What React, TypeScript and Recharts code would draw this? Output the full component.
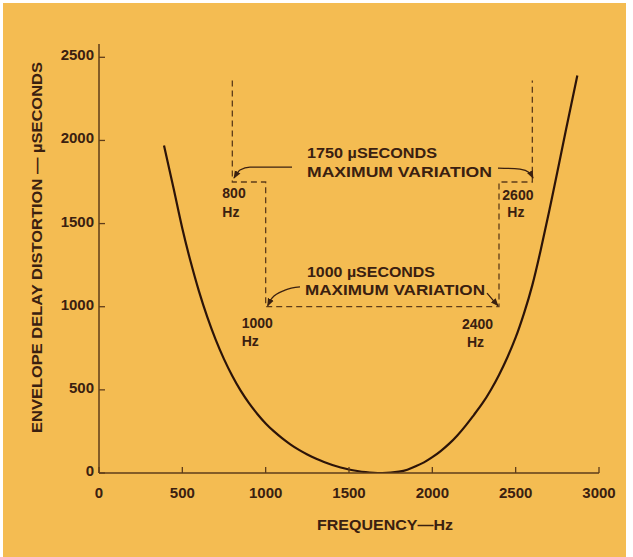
import React from 'react';
import { ComposedChart, Line, XAxis, YAxis, ReferenceDot } from 'recharts';

// ---- data ----
const frequencyTicks = [0, 500, 1000, 1500, 2000, 2500, 3000];
const delayTicks = [0, 500, 1000, 1500, 2000, 2500];

const curveFreq = [390, 450, 500, 550, 600, 650, 700, 750, 800, 850, 900, 950, 1000, 1050, 1100, 1150, 1200, 1250, 1300, 1350, 1400, 1450, 1500, 1550, 1600, 1650, 1700, 1750, 1800, 1850, 1900, 1950, 2000, 2050, 2100, 2150, 2200, 2250, 2300, 2350, 2400, 2450, 2500, 2550, 2600, 2650, 2700, 2750, 2800, 2870];
const curveDelay = [1970, 1700, 1470, 1270, 1092, 937, 802, 685, 583, 495, 420, 355, 298, 250, 208, 171, 139, 111, 87, 66, 48, 33, 21, 12, 5, 1, 0, 2, 8, 20, 40, 64, 95, 132, 175, 226, 285, 350, 418, 498, 590, 695, 815, 960, 1130, 1340, 1570, 1810, 2055, 2390];

// dashed limit template
const limitFreq = [800, 800, 1000, 1000, 2400, 2400, 2600, 2600];
const limitDelay = [2360, 1750, 1750, 1000, 1000, 1750, 1750, 2360];

// curved pointer arrows (freq, delay)
const arrow1750LeftFreq = [1158, 906, 846, 810];
const arrow1750LeftDelay = [1840, 1840, 1822, 1774];
const arrow1750RightFreq = [2394, 2526, 2586, 2604];
const arrow1750RightDelay = [1834, 1828, 1804, 1774];
const arrow1000LeftFreq = [1206, 1116, 1038, 1012];
const arrow1000LeftDelay = [1119, 1100, 1052, 1006];
const arrow1000RightFreq = [2328, 2364, 2394];
const arrow1000RightDelay = [1082, 1040, 1006];

const cornerFreq = [800, 2600, 1000, 2400];
const cornerDelay = [1750, 1750, 1000, 1000];
const cornerLabels = ['800', '2600', '1000', '2400'];

const captionFreq = [1200, 1200];
const captionDelay = [1750, 1000];
const captionLines = [
  ['1750 \u00b5SECONDS', 'MAXIMUM VARIATION'],
  ['1000 \u00b5SECONDS', 'MAXIMUM VARIATION'],
];

const xTitle = 'FREQUENCY\u2014Hz';
const yTitle = 'ENVELOPE DELAY DISTORTION \u2014 \u00b5SECONDS';

// ---- styles ----
const BG = '#F4BC52';
const INK = '#3a2010';
const AXIS = '#5e3c1a';
const FONT = '"Liberation Sans", Arial, Helvetica, sans-serif';

const zip = (fs: number[], vs: number[]) => fs.map((f, i) => ({ f, v: vs[i] }));

const curveData = zip(curveFreq, curveDelay);
const limitData = zip(limitFreq, limitDelay);
const arrows = [
  zip(arrow1750LeftFreq, arrow1750LeftDelay),
  zip(arrow1750RightFreq, arrow1750RightDelay),
  zip(arrow1000LeftFreq, arrow1000LeftDelay),
  zip(arrow1000RightFreq, arrow1000RightDelay),
];

// label offsets (pixels) relative to their anchor corner: [numberDx, numberDy, hzDx, hzDy]
const cornerOffsets = [
  [-10, 16, -10, 35],
  [-30, 18, -25, 35],
  [-24, 21, -24, 39],
  [-37, 22, -32, 40],
];
const captionOffsets = [
  [8, -24, 8, -5],
  [8, -30, 6, -12],
];

const textStyle = { fontFamily: FONT, fontWeight: 700, fill: INK } as const;

const XTick = (props: any) => {
  const { x, y, payload } = props;
  return (
    <g>
      <line x1={x} x2={x} y1={y} y2={y - 6} stroke={AXIS} strokeWidth={1.3} />
      <text x={x} y={y + 25} textAnchor="middle" fontSize={15} {...textStyle}>
        {payload.value}
      </text>
    </g>
  );
};

const YTick = (props: any) => {
  const { x, y, payload } = props;
  return (
    <g>
      <line x1={x} x2={x + 6} y1={y} y2={y} stroke={AXIS} strokeWidth={1.3} />
      <text x={x - 5} y={y + 3} textAnchor="end" fontSize={15} {...textStyle}>
        {payload.value}
      </text>
    </g>
  );
};

export default function App() {
  return (
    <div style={{ position: 'absolute', left: 0, top: 0, width: 633, height: 557, background: '#ffffff' }}>
      <svg width={0} height={0} style={{ position: 'absolute' }}>
        <defs>
          <marker id="ah" viewBox="0 0 10 10" refX="9" refY="5" markerWidth="8" markerHeight="8" orient="auto" markerUnits="userSpaceOnUse">
            <path d="M0,1 L10,5 L0,9 z" fill={INK} />
          </marker>
        </defs>
      </svg>
      <div style={{ position: 'absolute', left: 3, top: 3, width: 623, height: 554, background: BG }} />
      <div style={{ position: 'absolute', left: 0, top: 0 }}>
        <ComposedChart width={633} height={557} margin={{ top: 44, right: 34, bottom: 54, left: 39 }}>
          <XAxis
            type="number"
            dataKey="f"
            domain={[0, 3000]}
            ticks={frequencyTicks}
            interval={0}
            height={30}
            allowDataOverflow
            stroke={AXIS}
            strokeWidth={1.5}
            tickLine={false}
            tickSize={0}
            tickMargin={0}
            tick={<XTick />}
            label={{
              content: (p: any) => {
                const vb = p.viewBox || { x: 99, y: 473, width: 500 };
                return (
                  <text x={vb.x + vb.width / 2 + 36} y={vb.y + 57} textAnchor="middle" fontSize={15} textLength={136} lengthAdjust="spacingAndGlyphs" {...textStyle}>
                    {xTitle}
                  </text>
                );
              },
            }}
          />
          <YAxis
            type="number"
            dataKey="v"
            domain={[0, 2580]}
            ticks={delayTicks}
            interval={0}
            width={60}
            allowDataOverflow
            stroke={AXIS}
            strokeWidth={1.5}
            tickLine={false}
            tickSize={0}
            tickMargin={0}
            tick={<YTick />}
            label={{
              content: (p: any) => {
                const vb = p.viewBox || { x: 39, y: 44, width: 60, height: 429 };
                const cx = vb.x - 3;
                const cy = vb.y + vb.height / 2 - 11;
                return (
                  <text x={cx} y={cy} transform={`rotate(-90 ${cx} ${cy})`} textAnchor="middle" dominantBaseline="central" fontSize={15} textLength={371} lengthAdjust="spacingAndGlyphs" {...textStyle}>
                    {yTitle}
                  </text>
                );
              },
            }}
          />
          <Line data={limitData} dataKey="v" type="linear" stroke={AXIS} strokeWidth={1.3} strokeDasharray="6 4" dot={false} isAnimationActive={false} />
          {arrows.map((a, i) => (
            <Line key={i} data={a} dataKey="v" type="monotone" stroke={INK} strokeWidth={1.3} dot={false} markerEnd="url(#ah)" isAnimationActive={false} />
          ))}
          <Line data={curveData} dataKey="v" type="natural" stroke="#2c1409" strokeWidth={2.2} dot={false} isAnimationActive={false} />
          {cornerFreq.map((f, i) => (
            <ReferenceDot
              key={'c' + i}
              x={f}
              y={cornerDelay[i]}
              r={0}
              shape={(p: any) => (
                <g>
                  <text x={p.cx + cornerOffsets[i][0]} y={p.cy + cornerOffsets[i][1]} fontSize={14} {...textStyle}>{cornerLabels[i]}</text>
                  <text x={p.cx + cornerOffsets[i][2]} y={p.cy + cornerOffsets[i][3]} fontSize={14} {...textStyle}>Hz</text>
                </g>
              )}
            />
          ))}
          {captionFreq.map((f, i) => (
            <ReferenceDot
              key={'t' + i}
              x={f}
              y={captionDelay[i]}
              r={0}
              shape={(p: any) => (
                <g>
                  <text x={p.cx + captionOffsets[i][0]} y={p.cy + captionOffsets[i][1]} fontSize={15} textLength={i === 0 ? 130 : 128} lengthAdjust="spacingAndGlyphs" {...textStyle}>{captionLines[i][0]}</text>
                  <text x={p.cx + captionOffsets[i][2]} y={p.cy + captionOffsets[i][3]} fontSize={15} textLength={i === 0 ? 185 : 180} lengthAdjust="spacingAndGlyphs" {...textStyle}>{captionLines[i][1]}</text>
                </g>
              )}
            />
          ))}
        </ComposedChart>
      </div>
    </div>
  );
}
